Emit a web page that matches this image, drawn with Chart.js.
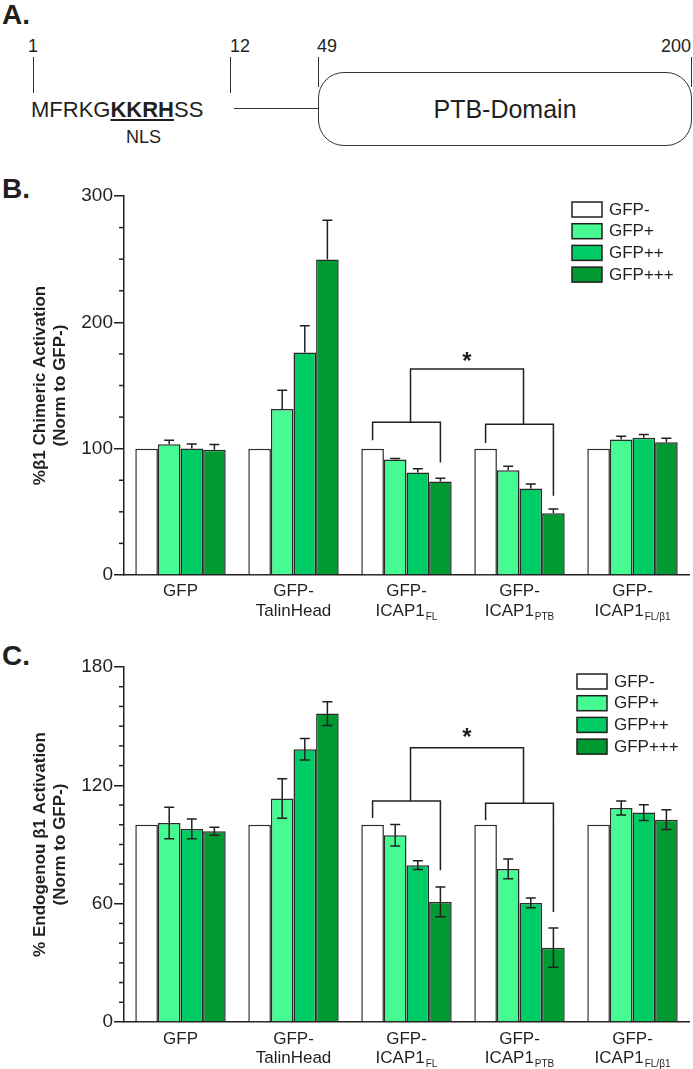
<!DOCTYPE html>
<html>
<head>
<meta charset="utf-8">
<script src="https://cdn.jsdelivr.net/npm/chart.js@4.4.1/dist/chart.umd.min.js"></script>
<style>
    body { margin: 0; background: #fff; }
    #page { position: relative; width: 693px; height: 1069px; overflow: hidden;
            font-family: 'Liberation Sans', Arial, sans-serif; color: #231f20; }
    .abs { position: absolute; white-space: nowrap; }
    .panel { font-weight: bold; font-size: 28px; line-height: 28px; }
    .num { font-size: 18px; line-height: 18px; }
    .vline { position: absolute; width: 0; border-left: 1.5px solid #333; }
    .hline { position: absolute; height: 0; border-top: 1.5px solid #333; }
    #domain { position: absolute; left: 318px; top: 72px; width: 372px; height: 72px;
              border: 1.5px solid #333; border-radius: 26px;
              font-size: 25px; line-height: 72px; text-align: center; padding-left: 0; }
    #seq { font-size: 22px; line-height: 22px; }
    #seq u { text-decoration-thickness: 2px; text-underline-offset: 2px; }
    .chartBox { position: absolute; left: 0; width: 693px; }
</style>
</head>
<body>
<div id="page">
    <!-- panel A: ICAP1 domain sketch -->
    <div class="abs panel" style="left:2px; top:1px;">A.</div>
    <div class="abs num" style="left:28px; top:37px;">1</div>
    <div class="abs num" style="left:230px; top:37px;">12</div>
    <div class="abs num" style="left:317px; top:37px;">49</div>
    <div class="abs num" style="left:661px; top:37px;">200</div>
    <div class="vline" style="left:33px; top:57px; height:36px;"></div>
    <div class="vline" style="left:230px; top:57px; height:36px;"></div>
    <div class="vline" style="left:318px; top:57px; height:30px;"></div>
    <div class="vline" style="left:691px; top:57px; height:30px;"></div>
    <div class="hline" style="left:234px; top:108px; width:85px;"></div>
    <div id="domain">PTB-Domain</div>
    <div class="abs" id="seq" style="left:31px; top:99px;">MFRKG<u><b>KKRH</b></u>SS</div>
    <div class="abs num" style="left:126px; top:128px;">NLS</div>

    <div class="abs panel" style="left:2px; top:175px;">B.</div>
    <div class="chartBox" style="top:170px; height:470px;"><canvas id="chartB"></canvas></div>

    <div class="abs panel" style="left:2px; top:642px;">C.</div>
    <div class="chartBox" style="top:640px; height:429px;"><canvas id="chartC"></canvas></div>
</div>

<script>
// x-axis groups (line 1, line 2 and the small subscript after line 2)
const groupNames = ['GFP', 'GFP-TalinHead', 'GFP-ICAP1 FL', 'GFP-ICAP1 PTB', 'GFP-ICAP1 FL/β1'];
const groupLine1 = ['GFP', 'GFP-', 'GFP-', 'GFP-', 'GFP-'];
const groupLine2 = ['', 'TalinHead', 'ICAP1', 'ICAP1', 'ICAP1'];
const groupSub   = ['', '', 'FL', 'PTB', 'FL/β1'];

const seriesNames = ['GFP-', 'GFP+', 'GFP++', 'GFP+++'];

// B. %β1 chimeric activation (norm to GFP-)
const chimMinus = [100, 100, 100, 100, 100];
const chimPlus  = [103.4, 131.3, 91.5, 83.0, 107.2];
const chimPlus2 = [100.2, 176.2, 81.1, 68.4, 108.7];
const chimPlus3 = [99.2, 249.8, 74.0, 48.8, 105.0];
const chimErrPlus  = [3.2, 15, 0.8, 3.0, 2.6];
const chimErrPlus2 = [3.5, 21, 3.0, 3.7, 2.6];
const chimErrPlus3 = [4.0, 31, 2.6, 3.5, 3.2];

// C. % endogenous β1 activation (norm to GFP-)
const endoMinus = [100, 100, 100, 100, 100];
const endoPlus  = [100.9, 113.3, 94.7, 77.6, 108.5];
const endoPlus2 = [97.9, 138.3, 79.5, 60.4, 106.2];
const endoPlus3 = [96.7, 156.4, 60.9, 37.7, 102.6];
const endoErrPlus  = [8.0, 10.0, 5.5, 5.0, 3.5];
const endoErrPlus2 = [5.0, 5.5, 2.2, 2.5, 4.0];
const endoErrPlus3 = [2.0, 6.0, 7.5, 10.0, 5.0];

const ink = '#231f20';
const fills = ['#ffffff', '#46fb92', '#00cc66', '#009a33'];
const font = "'Liberation Sans', Arial, sans-serif";

function makeDatasets(values, errors) {
    return values.map((vals, k) => ({
        label: seriesNames[k],
        data: vals,
        err: errors[k],              // error bar half-length (null = none)
        backgroundColor: fills[k],
        borderColor: '#2a2a2a',
        borderWidth: 1.5,
        barPercentage: 1.0,
        categoryPercentage: 0.8
    }));
}

// error bars, minor ticks, significance bracket, legend and x labels
const extras = {
    id: 'extras',
    afterDatasetsDraw(chart, args, opts) {
        const ctx = chart.ctx;
        const y = chart.scales.y;
        ctx.save();
        ctx.strokeStyle = ink;
        ctx.lineWidth = 1.5;
        chart.data.datasets.forEach((ds, d) => {
            if (!ds.err) return;
            const meta = chart.getDatasetMeta(d);
            ds.err.forEach((e, i) => {
                const bx = meta.data[i].x;
                const top = y.getPixelForValue(ds.data[i] + e);
                const bot = y.getPixelForValue(opts.errBoth ? ds.data[i] - e : ds.data[i]);
                ctx.beginPath();
                ctx.moveTo(bx, top); ctx.lineTo(bx, bot);
                ctx.moveTo(bx - 5, top); ctx.lineTo(bx + 5, top);
                if (opts.errBoth) { ctx.moveTo(bx - 5, bot); ctx.lineTo(bx + 5, bot); }
                ctx.stroke();
            });
        });
        ctx.restore();
    },
    afterDraw(chart, args, opts) {
        const ctx = chart.ctx;
        const x = chart.scales.x;
        const y = chart.scales.y;
        ctx.save();
        ctx.strokeStyle = ink;
        ctx.fillStyle = ink;
        ctx.lineWidth = 1.5;

        // minor ticks on the y axis
        for (let v = 0; v <= y.max; v += opts.minorStep) {
            if (v % opts.majorStep === 0) continue;
            const py = y.getPixelForValue(v);
            ctx.beginPath();
            ctx.moveTo(y.right - 5, py); ctx.lineTo(y.right, py);
            ctx.stroke();
        }

        // bracket between the two ICAP1 groups
        const b = opts.bracket;
        const first = chart.getDatasetMeta(0);
        const last = chart.getDatasetMeta(3);
        const mids = [];
        b.groups.forEach((g, k) => {
            const x1 = first.data[g].x, x2 = last.data[g].x;
            const low = b.low[k];
            ctx.beginPath();
            ctx.moveTo(x1, y.getPixelForValue(low[1]));
            ctx.lineTo(x1, y.getPixelForValue(low[0]));
            ctx.lineTo(x2, y.getPixelForValue(low[0]));
            ctx.lineTo(x2, y.getPixelForValue(low[2]));
            ctx.stroke();
            mids.push([(x1 + x2) / 2 + 4, y.getPixelForValue(low[0])]);
        });
        const topY = y.getPixelForValue(b.top);
        ctx.beginPath();
        ctx.moveTo(mids[0][0], mids[0][1]);
        ctx.lineTo(mids[0][0], topY);
        ctx.lineTo(mids[1][0], topY);
        ctx.lineTo(mids[1][0], mids[1][1]);
        ctx.stroke();
        ctx.font = 'bold 24px ' + font;
        ctx.textAlign = 'center';
        ctx.textBaseline = 'middle';
        ctx.fillText('*', (mids[0][0] + mids[1][0]) / 2, y.getPixelForValue(b.star) + 5);

        // legend box in the top right corner
        const lg = opts.legend;
        ctx.font = '17px ' + font;
        ctx.textAlign = 'left';
        chart.data.datasets.forEach((ds, d) => {
            const ty = lg.y + d * lg.row;
            ctx.fillStyle = ds.backgroundColor;
            ctx.fillRect(lg.x, ty, 30, 15);
            ctx.strokeRect(lg.x, ty, 30, 15);
            ctx.fillStyle = ink;
            ctx.fillText(ds.label, lg.x + 37, ty + 8);
        });

        // x labels with subscripts
        ctx.textBaseline = 'alphabetic';
        chart.data.labels.forEach((lab, i) => {
            const cx = x.getPixelForTick(i);
            ctx.font = '17px ' + font;
            ctx.textAlign = 'center';
            ctx.fillText(groupLine1[i], cx, y.bottom + opts.line1);
            if (!groupLine2[i]) return;
            const w1 = ctx.measureText(groupLine2[i]).width;
            ctx.font = '10px ' + font;
            const w2 = groupSub[i] ? ctx.measureText(groupSub[i]).width + 1 : 0;
            const left = cx - (w1 + w2) / 2;
            ctx.textAlign = 'left';
            ctx.font = '17px ' + font;
            ctx.fillText(groupLine2[i], left, y.bottom + opts.line2);
            if (groupSub[i]) {
                ctx.font = '10px ' + font;
                ctx.fillText(groupSub[i], left + w1 + 1, y.bottom + opts.line2 + 4);
            }
        });
        ctx.restore();
    }
};

function makeChart(id, values, errors, yMax, major, minor, title, extra, pad, xHeight) {
    return new Chart(document.getElementById(id), {
        type: 'bar',
        data: { labels: groupNames, datasets: makeDatasets(values, errors) },
        options: {
            responsive: true,
            maintainAspectRatio: false,
            animation: false,
            layout: { padding: { top: pad, right: 4, left: 0, bottom: 0 } },
            scales: {
                x: {
                    grid: { display: true, drawOnChartArea: false, drawTicks: false },
                    border: { display: true, color: ink, width: 1.5 },
                    ticks: { display: false },
                    afterFit: s => { s.height = xHeight; }
                },
                y: {
                    min: 0,
                    max: yMax,
                    grid: { drawOnChartArea: false, tickLength: 10, color: ink, lineWidth: 1.5 },
                    border: { display: true, color: ink, width: 1.5 },
                    ticks: { stepSize: major, padding: 1, color: ink, font: { family: font, size: 19 } },
                    title: {
                        display: true,
                        text: title,
                        color: ink,
                        font: { family: font, size: 17, weight: 'bold' },
                        padding: { top: 30, bottom: 0 }
                    },
                    afterFit: s => { s.width = 124; }
                }
            },
            plugins: {
                legend: { display: false },
                tooltip: { enabled: false },
                extras: Object.assign({ majorStep: major, minorStep: minor }, extra)
            }
        },
        plugins: [extras]
    });
}

makeChart('chartB',
    [chimMinus, chimPlus, chimPlus2, chimPlus3],
    [null, chimErrPlus, chimErrPlus2, chimErrPlus3],
    300, 100, 25,
    ['%β1 Chimeric Activation', '(Norm to GFP-)'],
    {
        errBoth: false,
        line1: 21, line2: 41,
        legend: { x: 572, y: 32, row: 21.7 },
        bracket: { groups: [2, 3], low: [[121, 106.6, 89], [119.3, 104.5, 62.8]], top: 163, star: 172.6 }
    },
    26, 65);

makeChart('chartC',
    [endoMinus, endoPlus, endoPlus2, endoPlus3],
    [null, endoErrPlus, endoErrPlus2, endoErrPlus3],
    180, 60, 10,
    ['% Endogenou β1 Activation', '(Norm to GFP-)'],
    {
        errBoth: true,
        line1: 22, line2: 41,
        legend: { x: 577, y: 34, row: 21.7 },
        bracket: { groups: [2, 3], low: [[112, 103.4, 76.9], [110.9, 102.3, 55.8]], top: 139.1, star: 146.4 }
    },
    27, 47);
</script>
</body>
</html>
